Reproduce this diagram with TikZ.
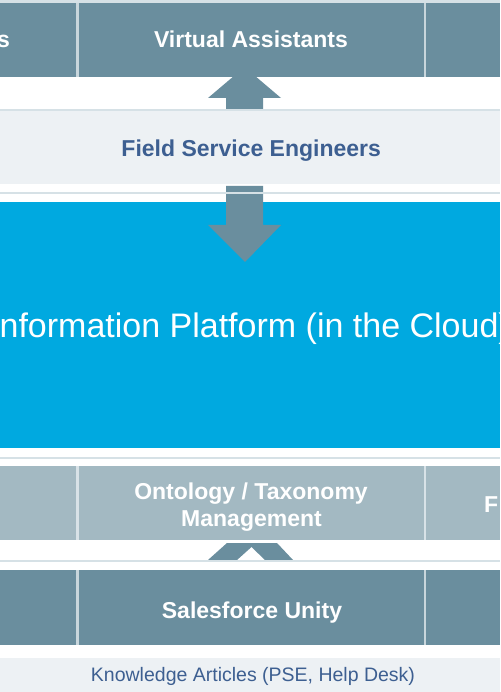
\documentclass[tikz,border=0pt]{standalone}
\usepackage{fontspec}
\setmainfont{Liberation Sans}
\definecolor{dark}{HTML}{6A8E9E}
\definecolor{light}{HTML}{A3B9C2}
\definecolor{cloud}{HTML}{00A9E0}
\definecolor{pale}{HTML}{EDF1F4}
\definecolor{paleline}{HTML}{D6E1E6}
\definecolor{sep}{HTML}{C8D6DC}
\definecolor{navy}{HTML}{3D5F91}
\tikzset{
  celltext/.style={inner sep=0pt, text=white, font=\fontsize{23}{27}\selectfont\bfseries},
  bandtext/.style={inner sep=0pt, text=navy, font=\fontsize{23}{27}\selectfont\bfseries},
  smalltext/.style={inner sep=0pt, text=navy, font=\fontsize{19.5}{23}\selectfont},
  bigtext/.style={inner sep=0pt, text=white, font=\fontsize{34}{40}\selectfont},
}
\begin{document}
\begin{tikzpicture}[x=1pt,y=-1pt]
\useasboundingbox (0,0) rectangle (500,692);
\clip (0,0) rectangle (500,692);
\fill[white] (0,0) rectangle (500,692);

% up arrow between top row and FSE band
\fill[dark] (226,109) -- (226,98) -- (208,98) -- (244.5,67) -- (281,98) -- (263,98) -- (263,109) -- cycle;

% top row
\fill[paleline] (0,0) rectangle (500,3);
\fill[dark] (0,3) rectangle (500,77);
\fill[sep] (76.3,3) rectangle (78.8,77);
\fill[sep] (423.8,3) rectangle (426.3,77);
\node[celltext, anchor=base east] (tl) at (10,48) {s};
\node[celltext, anchor=base] (va) at (251,48) {Virtual Assistants};

% FSE band
\fill[pale] (0,109) rectangle (500,184);
\fill[paleline] (0,109) rectangle (500,111);
\node[bandtext, anchor=base] (fse) at (251.2,157) {Field Service Engineers};

% cloud platform
\fill[cloud] (0,202) rectangle (500,448);
\fill[dark] (226,186) -- (263,186) -- (263,225) -- (281,225) -- (245,262) -- (208,225) -- (226,225) -- cycle;
\fill[paleline] (0,192.5) rectangle (500,194.5);
\node[bigtext, anchor=base] (ip) at (250,337) {Information Platform (in the Cloud)};

% separator line below cloud
\fill[paleline] (0,456.5) rectangle (500,458.5);

% ontology row
\fill[light] (0,466) rectangle (500,540);
\fill[sep!70!white] (76.3,466) rectangle (78.8,540);
\fill[sep!70!white] (423.8,466) rectangle (426.3,540);
\node[celltext, anchor=base] (ont1) at (251,499) {Ontology / Taxonomy};
\node[celltext, anchor=base] (ont2) at (251.5,526) {Management};
\node[celltext, anchor=base west] (fr) at (484,512) {F};

% chevron
\fill[dark] (208,560) -- (227,543) -- (277,543) -- (293,560) -- (265,560) -- (251.5,547) -- (237,560) -- cycle;
\fill[paleline] (0,559.5) rectangle (500,561.5);

% bottom dark row
\fill[dark] (0,570) rectangle (500,645);
\fill[sep] (76.3,570) rectangle (78.8,645);
\fill[sep] (423.8,570) rectangle (426.3,645);
\node[celltext, anchor=base] (su) at (252,618) {Salesforce Unity};

% knowledge band
\fill[pale] (0,658) rectangle (500,692);
\node[smalltext, anchor=base] (ka) at (253,681.5) {Knowledge Articles (PSE, Help Desk)};
\end{tikzpicture}
\end{document}
